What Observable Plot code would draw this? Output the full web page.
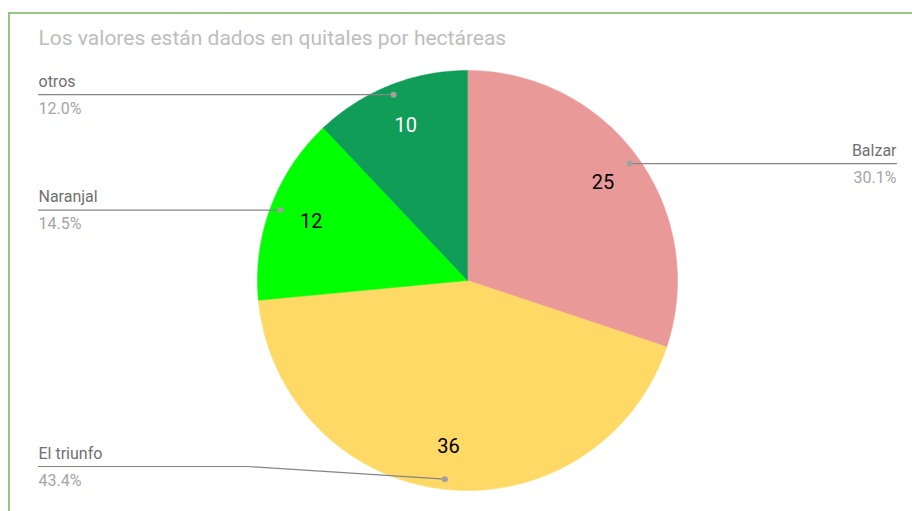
<!DOCTYPE html>
<html>
<head>
<meta charset="utf-8">
<script src="https://cdn.jsdelivr.net/npm/d3@7"></script>
<script src="https://cdn.jsdelivr.net/npm/@observablehq/plot@0.6"></script>
<style>
  html, body { margin: 0; padding: 0; background: #fff; }
  #wrap { position: relative; width: 912px; height: 511px; overflow: hidden; font-family: Roboto, sans-serif; }
  #wrap svg { position: absolute; left: 0; top: 0; }
  #frame { position: absolute; left: 8px; top: 12px; right: -10px; bottom: -10px;
           border-top: 2px solid #96c67f; border-left: 2px solid #96c67f; pointer-events: none; }
</style>
</head>
<body>
<div id="wrap"><div id="frame"></div></div>
<script>
// ---- data ----
const title = "Los valores están dados en quitales por hectáreas";
const names = ["Balzar", "El triunfo", "Naranjal", "otros"];
const values = [25, 36, 12, 10];
const colors = ["#ea9999", "#ffd966", "#00ff00", "#0f9d58"];
const valueTextColors = ["#000000", "#000000", "#000000", "#ffffff"];

// ---- layout constants (pixels relative to pie centre, y up) ----
const R = 210;          // pie radius
const dotR = 200;       // leader dot radius
const valueR = 167;     // value label radius
const labelX = 429;     // label text x (left / right)
const elbowX = 220;     // leader elbow x
const minLabelY = -186; // lowest label line

const total = d3.sum(values);
const arcs = d3.pie().sort(null).value(d => d)(values);

// slice polygons
const slicePts = [];
arcs.forEach((a, i) => {
  const name = names[i];
  slicePts.push({name, x: 0, y: 0});
  const n = Math.max(2, Math.ceil((a.endAngle - a.startAngle) / (Math.PI / 360)));
  for (let k = 0; k <= n; k++) {
    const t = a.startAngle + (a.endAngle - a.startAngle) * k / n;
    slicePts.push({name, x: R * Math.sin(t), y: R * Math.cos(t)});
  }
  slicePts.push({name, x: 0, y: 0});
});

// labels and leaders
const info = arcs.map((a, i) => {
  const m = (a.startAngle + a.endAngle) / 2;
  const side = Math.sin(m) >= 0 ? 1 : -1;
  const dx = dotR * Math.sin(m), dy = dotR * Math.cos(m);
  const ly = Math.max(dy, minLabelY);
  return {
    name: names[i],
    value: values[i],
    pct: (values[i] / total * 100).toFixed(1) + "%",
    side, dx, dy, ly,
    vx: valueR * Math.sin(m), vy: valueR * Math.cos(m),
    vcolor: valueTextColors[i]
  };
});
const leaderPts = info.flatMap(d => [
  {name: d.name, x: d.side * labelX, y: d.ly},
  {name: d.name, x: d.side * elbowX, y: d.ly},
  {name: d.name, x: d.dx, y: d.dy}
]);
const left = info.filter(d => d.side < 0);
const right = info.filter(d => d.side > 0);

const chart = Plot.plot({
  width: 912,
  height: 511,
  margin: 0,
  style: {background: "transparent", fontFamily: "Roboto, sans-serif"},
  x: {domain: [-467, 445], range: [0, 912], axis: null},
  y: {domain: [-231, 280], range: [511, 0], axis: null},
  color: {domain: names, range: colors},
  marks: [
    Plot.line(slicePts, {x: "x", y: "y", z: "name", fill: "name", stroke: "name", strokeWidth: 0.5, curve: "linear"}),
    Plot.line(leaderPts, {x: "x", y: "y", z: "name", stroke: "#858585", strokeWidth: 1.2}),
    Plot.dot(info, {x: "dx", y: "dy", r: 3, fill: "#a0a0a0", stroke: null}),
    Plot.text(info, {x: "vx", y: "vy", text: d => String(d.value), fill: "vcolor", fontSize: 20}),
    Plot.text(left, {x: d => d.side * labelX, y: "ly", text: "name", textAnchor: "start", lineAnchor: "bottom", dy: -8, fontSize: 16, fill: "#707070"}),
    Plot.text(left, {x: d => d.side * labelX, y: "ly", text: "pct", textAnchor: "start", lineAnchor: "bottom", dy: 19, fontSize: 16, fill: "#a5a5a5"}),
    Plot.text(right, {x: d => d.side * labelX, y: "ly", text: "name", textAnchor: "end", lineAnchor: "bottom", dy: -8, fontSize: 16, fill: "#707070"}),
    Plot.text(right, {x: d => d.side * labelX, y: "ly", text: "pct", textAnchor: "end", lineAnchor: "bottom", dy: 19, fontSize: 16, fill: "#a5a5a5"}),
    Plot.text([title], {frameAnchor: "top-left", text: d => d, dx: 38, dy: 44, lineAnchor: "bottom", textAnchor: "start", fontSize: 21, fill: "#bdbdbd"})
  ]
});
document.getElementById("wrap").prepend(chart);
</script>
</body>
</html>
